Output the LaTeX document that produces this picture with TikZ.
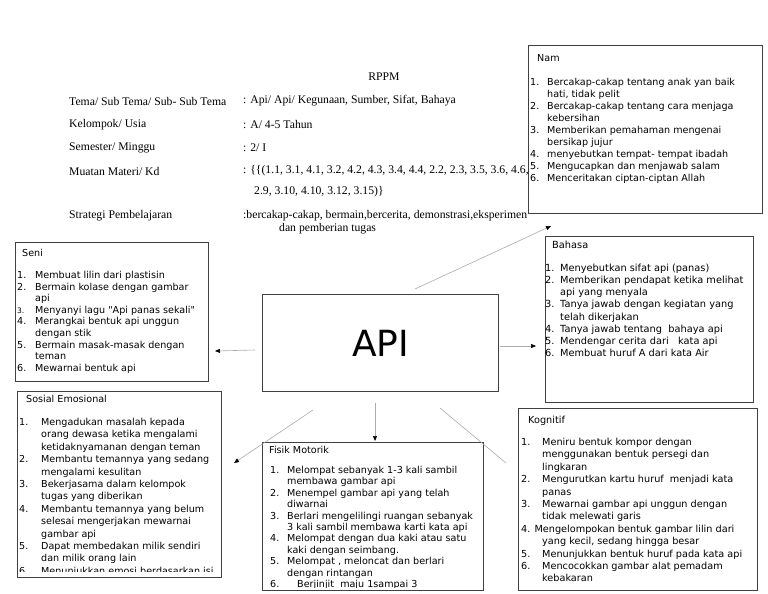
\documentclass[tikz,border=0pt]{standalone}
\usepackage{fontspec}
\setmainfont{Liberation Serif}
\newfontfamily\dv{DejaVu Sans}
\usetikzlibrary{arrows.meta}
\newlength{\numw}
\newcommand{\li}[2]{\makebox[\numw][l]{#1}#2}
\begin{document}
\begin{tikzpicture}[x=1pt,y=-1pt,
  box/.style={draw=black!75, line width=1.1pt, fill=white, anchor=north west, inner sep=0pt},
  hdr/.style={font=\fontsize{11.7}{14}\selectfont, anchor=west, inner sep=0pt},
  ttl/.style={anchor=north west, inner sep=0pt},
  lst/.style={anchor=north west, inner sep=0pt, align=left},
  conn/.style={draw=gray!65, line width=0.6pt, -{Triangle[length=5pt,width=4pt,color=black]}},
  plain/.style={draw=gray!65, line width=0.6pt}]
\useasboundingbox (0,0) rectangle (768,594);
\fill[white] (0,0) rectangle (768,594);

% header
\node[hdr, anchor=center] (rppm) at (384,77) {RPPM};
\node[hdr] (l1) at (69,101) {Tema/ Sub Tema/ Sub- Sub Tema};
\node[hdr] (v1) at (243,101) {: Api/ Api/ Kegunaan, Sumber, Sifat, Bahaya};
\node[hdr] (l2) at (69,125) {Kelompok/ Usia};
\node[hdr] (v2) at (243,125) {: A/ 4-5 Tahun};
\node[hdr] (l3) at (69,148) {Semester/ Minggu};
\node[hdr] (v3) at (243,148) {: 2/ I};
\node[hdr] (l4) at (69,171) {Muatan Materi/ Kd};
\node[hdr] (v4) at (243,171) {: \{\{(1.1, 3.1, 4.1, 3.2, 4.2, 4.3, 3.4, 4.4, 2.2, 2.3, 3.5, 3.6, 4.6,};
\node[hdr] (v4b) at (254,192) {2.9, 3.10, 4.10, 3.12, 3.15)\}};
\node[hdr] (l5) at (69,216) {Strategi Pembelajaran};
\node[hdr] (v5) at (243,216) {:bercakap-cakap, bermain,bercerita, demonstrasi,eksperimen};
\node[hdr] (v5b) at (279,229) {dan pemberian tugas};

% Nam
\node[box, minimum width=234pt, minimum height=168pt] (nam) at (528,45) {};
\node[ttl, font=\dv\fontsize{9.6}{12}\selectfont] (namt) at (537,54) {Nam};
\node[lst, font={\dv\fontsize{9.6}{12}\selectfont\setlength\numw{17pt}}] (naml) at (530,78) {%
\li{1.}{Bercakap-cakap tentang anak yan baik}\\
\li{}{hati, tidak pelit}\\
\li{2.}{Bercakap-cakap tentang cara menjaga}\\
\li{}{kebersihan}\\
\li{3.}{Memberikan pemahaman mengenai}\\
\li{}{bersikap jujur}\\
\li{4.}{menyebutkan tempat- tempat ibadah}\\
\li{5.}{Mengucapkan dan menjawab salam}\\
\li{6.}{Menceritakan ciptan-ciptan Allah}};

% Seni
\node[box, minimum width=193pt, minimum height=139pt] (seni) at (15,242) {};
\node[ttl, font=\dv\fontsize{9.6}{11.6}\selectfont] (senit) at (22,249) {Seni};
\node[lst, font={\dv\fontsize{9.6}{11.6}\selectfont\setlength\numw{18pt}}] (senil) at (17,271) {%
\li{1.}{Membuat lilin dari plastisin}\\
\li{2.}{Bermain kolase dengan gambar}\\
\li{}{api}\\
\li{\fontsize{7.5}{11.6}\selectfont 3.}{Menyanyi lagu "Api panas sekali"}\\
\li{4.}{Merangkai bentuk api unggun}\\
\li{}{dengan stik}\\
\li{5.}{Bermain masak-masak dengan}\\
\li{}{teman}\\
\li{6.}{Mewarnai bentuk api}};

% Bahasa
\node[box, minimum width=208pt, minimum height=166pt] (bahasa) at (545,236) {};
\node[ttl, font=\dv\fontsize{9.8}{12.1}\selectfont] (bahasat) at (552,241) {Bahasa};
\node[lst, font={\dv\fontsize{9.8}{12.1}\selectfont\setlength\numw{15pt}}] (bahasal) at (545,264) {%
\li{1.}{Menyebutkan sifat api (panas)}\\
\li{2.}{Memberikan pendapat ketika melihat}\\
\li{}{api yang menyala}\\
\li{3.}{Tanya jawab dengan kegiatan yang}\\
\li{}{telah dikerjakan}\\
\li{4.}{Tanya jawab tentang\ \ bahaya api}\\
\li{5.}{Mendengar cerita dari\ \ \ kata api}\\
\li{6.}{Membuat huruf A dari kata Air}};

% Sosial Emosional
\node[box, minimum width=204pt, minimum height=186pt] (sosial) at (17,391) {};
\node[ttl, font=\dv\fontsize{9.6}{12.4}\selectfont] (sosialt) at (26,395) {Sosial Emosional};
\begin{scope}
\clip (17,391) rectangle (221,571);
\node[lst, font={\dv\fontsize{9.6}{12.4}\selectfont\setlength\numw{22pt}}] (sosiall) at (19,418) {%
\li{1.}{Mengadukan masalah kepada}\\
\li{}{orang dewasa ketika mengalami}\\
\li{}{ketidaknyamanan dengan teman}\\
\li{2.}{Membantu temannya yang sedang}\\
\li{}{mengalami kesulitan}\\
\li{3.}{Bekerjasama dalam kelompok}\\
\li{}{tugas yang diberikan}\\
\li{4.}{Membantu temannya yang belum}\\
\li{}{selesai mengerjakan mewarnai}\\
\li{}{gambar api}\\
\li{5.}{Dapat membedakan milik sendiri}\\
\li{}{dan milik orang lain}\\
\li{6.}{Menunjukkan emosi berdasarkan isi}};
\end{scope}

% API
\node[box, minimum width=236pt, minimum height=97pt, font=\dv\fontsize{36}{40}\selectfont] (api) at (262,294) {API\hspace{14pt}};

% Fisik Motorik
\node[box, minimum width=221pt, minimum height=148pt] (fisik) at (262,442) {};
\node[ttl, font=\dv\fontsize{9.6}{11.4}\selectfont] (fisikt) at (269,446) {Fisik Motorik};
\begin{scope}
\clip (262,442) rectangle (483,587);
\node[lst, font={\dv\fontsize{9.6}{11.4}\selectfont\setlength\numw{17pt}}] (fisikl) at (270,466) {%
\li{1.}{Melompat sebanyak 1-3 kali sambil}\\
\li{}{membawa gambar api}\\
\li{2.}{Menempel gambar api yang telah}\\
\li{}{diwarnai}\\
\li{3.}{Berlari mengelilingi ruangan sebanyak}\\
\li{}{3 kali sambil membawa karti kata api}\\
\li{4.}{Melompat dengan dua kaki atau satu}\\
\li{}{kaki dengan seimbang.}\\
\li{5.}{Melompat , meloncat dan berlari}\\
\li{}{dengan rintangan}\\
\li{6.}{\hspace{10pt}Berjinjit\ \ maju 1sampai 3}};
\end{scope}

% Kognitif
\node[box, minimum width=239pt, minimum height=182pt] (kognitif) at (518,408) {};
\node[ttl, font=\dv\fontsize{9.7}{12.4}\selectfont] (kognitift) at (528,416) {Kognitif};
\node[lst, font={\dv\fontsize{9.7}{12.4}\selectfont\setlength\numw{21pt}}] (kognitifl) at (521,438) {%
\li{1.}{Meniru bentuk kompor dengan}\\
\li{}{menggunakan bentuk persegi dan}\\
\li{}{lingkaran}\\
\li{2.}{Mengurutkan kartu huruf\ \ menjadi kata}\\
\li{}{panas}\\
\li{3.}{Mewarnai gambar api unggun dengan}\\
\li{}{tidak melewati garis}\\
4. Mengelompokan bentuk gambar lilin dari\\
\li{}{yang kecil, sedang hingga besar}\\
\li{5.}{Menunjukkan bentuk huruf pada kata api}\\
\li{6.}{Mencocokkan gambar alat pemadam}\\
\li{}{kebakaran}};

% connectors
\coordinate (aL) at (255,350); \coordinate (eL) at (215,351);
\coordinate (aR) at (500,346); \coordinate (eR) at (536,346);
\coordinate (aUR) at (415,289); \coordinate (eUR) at (551,226);
\coordinate (aD) at (375,403); \coordinate (eD) at (375,441);
\coordinate (aDL) at (313,410); \coordinate (eDL) at (234,463);
\coordinate (aDR) at (440,408); \coordinate (eDR) at (506,463);
\draw[conn] (aL) -- (eL);
\draw[conn] (aR) -- (eR);
\draw[conn] (aUR) -- (eUR);
\draw[conn] (aD) -- (eD);
\draw[conn] (aDL) -- (eDL);
\draw[plain] (aDR) -- (eDR);
\end{tikzpicture}
\end{document}
